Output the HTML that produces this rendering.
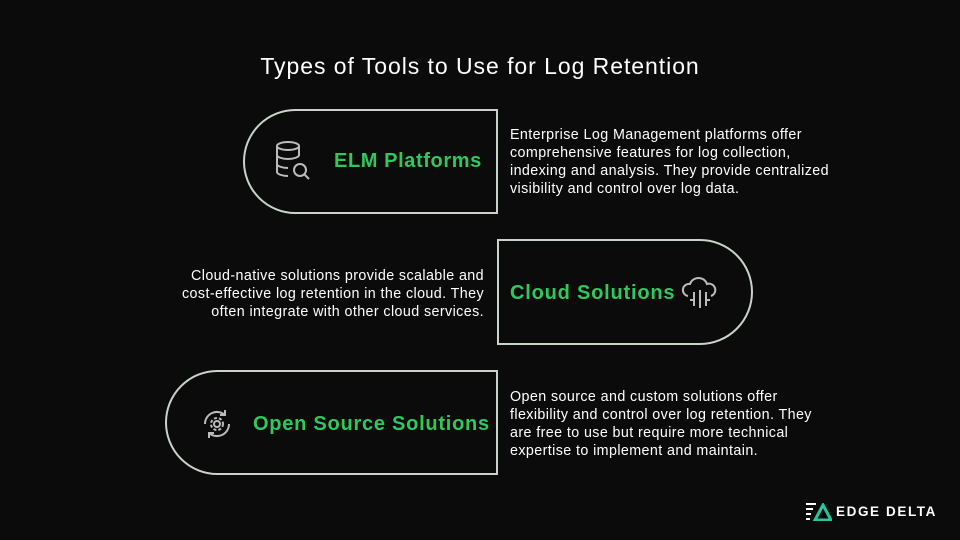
<!DOCTYPE html>
<html><head><style>
body{margin:0;width:960px;height:540px;background:#0a0b0a;position:relative;overflow:hidden;font-family:"Liberation Sans",sans-serif;color:#fff}
.t{position:absolute;top:53px;left:0;width:960px;text-align:center;font-size:23px;letter-spacing:0.95px}
.b{position:absolute;border:2px solid #c9d3c9;box-sizing:border-box;background:#0a0b0a}
.g{position:absolute;color:#2fc85c;font-weight:bold;font-size:20px;white-space:nowrap;letter-spacing:0.6px}
.d{position:absolute;font-size:14.3px;line-height:18px;letter-spacing:0.4px;white-space:nowrap}
</style></head><body>
<div class="t">Types of Tools to Use for Log Retention</div>
<div class="b" style="left:243px;top:109px;width:255px;height:105px;border-radius:53px 0 0 53px"></div>
<div class="b" style="left:497px;top:239px;width:256px;height:106px;border-radius:0 53px 53px 0"></div>
<div class="b" style="left:165px;top:370px;width:333px;height:105px;border-radius:53px 0 0 53px"></div>
<svg style="position:absolute;left:274px;top:140px" width="44" height="44" viewBox="0 0 44 44" fill="none" stroke="#bbb" stroke-width="2">
<ellipse cx="14" cy="6" rx="11" ry="4"/><path d="M3 6v26c0 2 5 4 11 4M25 6v10M3 15c0 2 5 4 11 4s11-2 11-4M3 24c0 2 5 4 11 4"/><circle cx="26" cy="30" r="6"/><path d="M30 34l5 5"/></svg>
<div class="g" style="left:334px;top:150px">ELM Platforms</div>
<div class="d" style="left:510px;top:126px">Enterprise Log Management platforms offer<br>comprehensive features for log collection,<br>indexing and analysis. They provide centralized<br>visibility and control over log data.</div>
<div class="d" style="left:140px;top:267px;width:344px;text-align:right">Cloud-native solutions provide scalable and<br>cost-effective log retention in the cloud. They<br>often integrate with other cloud services.</div>
<div class="g" style="left:510px;top:282px;letter-spacing:0.8px">Cloud Solutions</div>
<svg style="position:absolute;left:680px;top:272px" width="40" height="40" viewBox="0 0 40 40" fill="none" stroke="#bbb" stroke-width="2">
<path d="M8 24a6 6 0 0 1 2-12 9 9 0 0 1 17 0 6 6 0 0 1 4 12M14 20v14M20 18v18M26 20v14M10 28h4M26 28h4"/></svg>
<svg style="position:absolute;left:197px;top:404px" width="40" height="40" viewBox="0 0 40 40" fill="none" stroke="#bbb" stroke-width="2">
<path d="M8 20a12 12 0 0 1 20-9M32 20a12 12 0 0 1-20 9M28 6v5h-5M12 34v-5h5"/><circle cx="20" cy="20" r="3"/><circle cx="20" cy="20" r="6" stroke-dasharray="3 2"/></svg>
<div class="g" style="left:253px;top:413px;letter-spacing:0.75px">Open Source Solutions</div>
<div class="d" style="left:510px;top:388px">Open source and custom solutions offer<br>flexibility and control over log retention. They<br>are free to use but require more technical<br>expertise to implement and maintain.</div>
<svg style="position:absolute;left:806px;top:503px" width="26" height="18" viewBox="0 0 26 18"><path d="M0 1h10M0 6h7M0 11h5M0 16h4" stroke="#fff" stroke-width="2"/><path d="M17 2l8 15H9z" fill="none" stroke="#25c6a0" stroke-width="3"/></svg>
<div style="position:absolute;left:836px;top:504px;font-size:13.5px;letter-spacing:1.6px;font-weight:bold">EDGE DELTA</div>
</body></html>
